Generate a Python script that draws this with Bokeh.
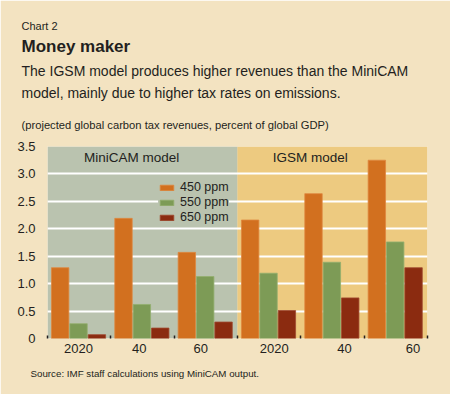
from bokeh.plotting import figure
from bokeh.models import Range1d, FixedTicker, Title, Legend, LegendItem, ColumnDataSource, NumeralTickFormatter
from bokeh.core.properties import value
from bokeh.embed import file_html
from bokeh.resources import INLINE

# ---- data ----
years = ["2020", "40", "60", "2020", "40", "60"]
models = ["MiniCAM model", "IGSM model"]
series = ["450 ppm", "550 ppm", "650 ppm"]
minicam_450 = [1.29, 2.19, 1.57]
minicam_550 = [0.27, 0.62, 1.13]
minicam_650 = [0.07, 0.19, 0.30]
igsm_450 = [2.16, 2.64, 3.25]
igsm_550 = [1.19, 1.39, 1.76]
igsm_650 = [0.51, 0.74, 1.29]
y_ticks = [0, 0.5, 1.0, 1.5, 2.0, 2.5, 3.0, 3.5]
grid_ticks = [0.5, 1.0, 1.5, 2.0, 2.5, 3.0]

# ---- style ----
BG = "#F3E3C1"
GREY = "#BAC3AF"
YELLOW = "#EDCA80"
TXT = "#231F20"
colors = ["#D2701F", "#7D9B56", "#8B2B10"]
edge = ["#DE8840", "#93AE6E", "#A04A30"]
FONT = "Liberation Sans"

p = figure(width=450, height=394, output_backend="svg", toolbar_location=None,
           x_range=Range1d(0, 6), y_range=Range1d(0, 3.5),
           min_border_left=47, min_border_right=23, min_border_top=146, min_border_bottom=56)
p.background_fill_color = BG
p.border_fill_color = BG
p.outline_line_color = None
p.title.visible = False

# model panels
p.quad(left=[0, 3], right=[3, 6], bottom=[0, 0], top=[3.5, 3.5],
       fill_color=[GREY, YELLOW], line_color=None, level="image")

groups = list(range(6))
offsets = [0.2, 0.49, 0.78]
bar_w = 0.275
vals = [minicam_450 + igsm_450, minicam_550 + igsm_550, minicam_650 + igsm_650]
items = []
for k in range(3):
    src = ColumnDataSource(dict(x=[g + offsets[k] for g in groups], top=vals[k]))
    r = p.vbar(x="x", top="top", width=bar_w, bottom=0, source=src,
               fill_color=colors[k], line_color=edge[k], line_width=0.8)
    items.append(LegendItem(label=series[k], renderers=[r]))

# panel titles
tsrc = ColumnDataSource(dict(x=[1.33, 4.15], y=[3.30, 3.30], t=models))
p.text(x="x", y="y", text="t", source=tsrc, text_align="center", text_baseline="middle",
       text_font=value(FONT), text_font_size="13.5px", text_color=TXT)

# grid
p.xgrid.grid_line_color = None
p.ygrid.ticker = FixedTicker(ticks=grid_ticks)
p.ygrid.grid_line_color = "white"
p.ygrid.grid_line_width = 2

# y axis
p.yaxis.ticker = FixedTicker(ticks=y_ticks)
p.yaxis.formatter = NumeralTickFormatter(format="0.0")
p.yaxis.major_label_overrides = {0: "0"}
p.yaxis.axis_line_color = None
p.yaxis.major_tick_line_color = None
p.yaxis.minor_tick_line_color = None
p.yaxis.major_label_standoff = 6
p.yaxis.major_label_text_font = FONT
p.yaxis.major_label_text_font_size = "13px"
p.yaxis.major_label_text_color = TXT

# x axis
label_pos = [0.49, 1.45, 2.42, 3.58, 4.69, 5.77]
p.xaxis.ticker = FixedTicker(ticks=label_pos, minor_ticks=[0, 1, 2, 3, 4, 5, 6])
p.xaxis.major_label_overrides = {pos: lab for pos, lab in zip(label_pos, years)}
p.xaxis.axis_line_color = None
p.xaxis.major_tick_in = 0
p.xaxis.major_tick_out = 0
p.xaxis.minor_tick_in = 3
p.xaxis.minor_tick_out = 0
p.xaxis.minor_tick_line_color = TXT
p.xaxis.minor_tick_line_width = 1.5
p.xaxis.major_label_standoff = 5
p.xaxis.major_label_text_font = FONT
p.xaxis.major_label_text_font_size = "13px"
p.xaxis.major_label_text_color = TXT

# legend
legend = Legend(items=items, location=(111, 114))
legend.background_fill_color = GREY
legend.background_fill_alpha = 1
legend.border_line_color = None
legend.padding = 4
legend.spacing = 1
legend.glyph_width = 17
legend.glyph_height = 7
legend.label_standoff = 5
legend.label_height = 14
legend.label_text_font = FONT
legend.label_text_font_size = "12.5px"
legend.label_text_color = TXT
p.add_layout(legend, "center")

# header / footer texts (added innermost first)
def add_title(txt, size, standoff, offset, place="above", bold=False):
    p.add_layout(Title(text=txt, align="left", offset=offset, standoff=standoff,
                       text_font=FONT, text_font_size=size, text_color=TXT,
                       text_font_style="bold" if bold else "normal"), place)

add_title("(projected global carbon tax revenues, percent of global GDP)", "11.2px", 30.6, -26)
add_title("model, mainly due to higher tax rates on emissions.", "14px", 1.2, -26)
add_title("The IGSM model produces higher revenues than the MiniCAM", "14px", 6.8, -26)
add_title("Money maker", "17px", 3.5, -26, bold=True)
add_title("Chart 2", "11px", 1.5, -26)
add_title("Source: IMF staff calculations using MiniCAM output.", "9.75px", 20, -17, place="below")

open("out.html", "w").write(file_html(p, INLINE))
